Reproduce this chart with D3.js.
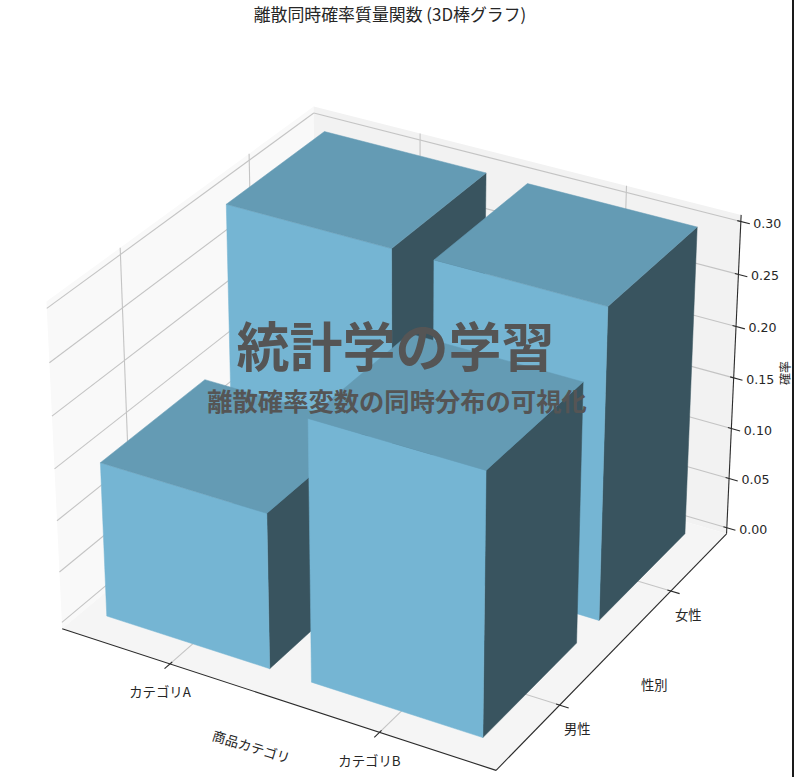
<!DOCTYPE html>
<html>
<head>
<meta charset="utf-8">
<script src="https://cdn.jsdelivr.net/npm/d3@7"></script>
<style>
  body { margin: 0; background: #fff; }
  svg { display: block; }
  text { font-family: "Noto Sans CJK JP", sans-serif; fill: #262626; }
  .num { font-family: "DejaVu Sans", sans-serif; }
</style>
</head>
<body>
<svg id="chart" width="794" height="777"></svg>
<script>
const categories = ["カテゴリA", "カテゴリB"];
const genders = ["男性", "女性"];
const maleValues = [0.15, 0.25];
const femaleValues = [0.30, 0.30];
const zTicks = [0, 0.05, 0.1, 0.15, 0.2, 0.25, 0.3];

const title = "離散同時確率質量関数 (3D棒グラフ)";
const overlayMain = "統計学の学習";
const overlaySub = "離散確率変数の同時分布の可視化";

const svg = d3.select("#chart");
const barWidth = 0.8;

// same camera as a default mplot3d view (elev 30, azim -60, box 4:4:3)
const elev = 30 * Math.PI / 180;
const azim = -60 * Math.PI / 180;
const dist = 10;
const aspect = [4, 4, 3];
const boxScale = 1.8294640721620434 * 25 / 24 / Math.hypot(...aspect);
const box = aspect.map((d) => d * boxScale);
const w = [Math.cos(elev) * Math.cos(azim), Math.cos(elev) * Math.sin(azim), Math.sin(elev)];
const u = [-w[1], w[0], 0].map((d) => d / Math.hypot(w[0], w[1]));
const v = [
  w[1] * u[2] - w[2] * u[1],
  w[2] * u[0] - w[0] * u[2],
  w[0] * u[1] - w[1] * u[0],
];
const dot = (a, b) => a[0] * b[0] + a[1] * b[1] + a[2] * b[2];

const x = d3.scaleLinear().domain([-0.535, 1.535]).range([0, box[0]]);
const y = d3.scaleLinear().domain([-0.535, 1.535]).range([0, box[1]]);
const z = d3.scaleLinear().domain([-0.00625, 0.30625]).range([0, box[2]]);
const xMin = x.domain()[0], xMax = x.domain()[1];
const yMin = y.domain()[0], yMax = y.domain()[1];
const zMin = z.domain()[0], zMax = z.domain()[1];
const xSpan = xMax - xMin, ySpan = yMax - yMin;

const pxScale = 4175;
const pxX = 400.5;
const pxY = 422.5;

function project(dx, dy, dz) {
  const p = [x(dx) - box[0] / 2, y(dy) - box[1] / 2, z(dz) - box[2] / 2];
  const depth = dist - dot(p, w);
  return [pxX + pxScale * dot(p, u) / depth, pxY - pxScale * dot(p, v) / depth];
}

const line = d3.line();
const poly = (pts) => line(pts.map((p) => project(...p))) + "Z";
const seg = (a, b, stroke, width) =>
  svg.append("path")
    .attr("d", line([project(...a), project(...b)]))
    .attr("fill", "none")
    .attr("stroke", stroke)
    .attr("stroke-width", width);

// panes
svg.append("path")
  .attr("d", poly([[xMin, yMin, zMin], [xMin, yMax, zMin], [xMin, yMax, zMax], [xMin, yMin, zMax]]))
  .attr("fill", "#f9f9f9");
svg.append("path")
  .attr("d", poly([[xMin, yMax, zMin], [xMax, yMax, zMin], [xMax, yMax, zMax], [xMin, yMax, zMax]]))
  .attr("fill", "#f2f2f2");
svg.append("path")
  .attr("d", poly([[xMin, yMin, zMin], [xMax, yMin, zMin], [xMax, yMax, zMin], [xMin, yMax, zMin]]))
  .attr("fill", "#f5f5f5");

// grid
const gridColor = "#c4c4c4";
categories.forEach((c, i) => {
  seg([i, yMin, zMin], [i, yMax, zMin], gridColor, 1.1);
  seg([i, yMax, zMin], [i, yMax, zMax], gridColor, 1.1);
});
genders.forEach((g, i) => {
  seg([xMax, i, zMin], [xMin, i, zMin], gridColor, 1.1);
  seg([xMin, i, zMin], [xMin, i, zMax], gridColor, 1.1);
});
zTicks.forEach((t) => {
  seg([xMin, yMin, t], [xMin, yMax, t], gridColor, 1.1);
  seg([xMin, yMax, t], [xMax, yMax, t], gridColor, 1.1);
});

// bars, far ones first
const bars = [];
genders.forEach((g, j) => {
  const vals = j === 0 ? maleValues : femaleValues;
  categories.forEach((c, i) => bars.push({ i, j, value: vals[i] }));
});
bars.sort((a, b) => b.j - a.j || a.i - b.i);

bars.forEach((b) => {
  const x0 = b.i - barWidth / 2, x1 = b.i + barWidth / 2;
  const y0 = b.j - barWidth / 2, y1 = b.j + barWidth / 2;
  const faces = [
    { fill: "#39545f", pts: [[x1, y0, 0], [x1, y1, 0], [x1, y1, b.value], [x1, y0, b.value]] },
    { fill: "#75b5d3", pts: [[x0, y0, 0], [x1, y0, 0], [x1, y0, b.value], [x0, y0, b.value]] },
    { fill: "#649bb4", pts: [[x0, y0, b.value], [x1, y0, b.value], [x1, y1, b.value], [x0, y1, b.value]] },
  ];
  svg.append("g").selectAll("path").data(faces).join("path")
    .attr("d", (f) => poly(f.pts))
    .attr("fill", (f) => f.fill)
    .attr("stroke", (f) => f.fill)
    .attr("stroke-width", 0.5);
});

// axis lines
const axisColor = "#2b2b2b";
seg([xMin, yMin, zMin], [xMax, yMin, zMin], axisColor, 1.1);
seg([xMax, yMin, zMin], [xMax, yMax, zMin], axisColor, 1.1);
seg([xMax, yMax, zMin], [xMax, yMax, zMax], axisColor, 1.1);

const tickIn = 0.008, tickOut = 0.02;
categories.forEach((c, i) => {
  seg([i, yMin + tickIn * ySpan, zMin], [i, yMin - tickOut * ySpan, zMin], axisColor, 1.1);
});
genders.forEach((g, i) => {
  seg([xMax - tickIn * xSpan, i, zMin], [xMax + tickOut * xSpan, i, zMin], axisColor, 1.1);
});
zTicks.forEach((t) => {
  seg([xMax - tickIn * xSpan, yMax, t], [xMax + tickOut * xSpan, yMax, t], axisColor, 1.1);
});

// tick labels
svg.append("g").selectAll("text").data(categories).join("text")
  .attr("x", (c, i) => project(i, yMin, zMin)[0] - 10)
  .attr("y", (c, i) => project(i, yMin, zMin)[1] + 27.5)
  .attr("text-anchor", "middle")
  .attr("dominant-baseline", "central")
  .attr("font-size", 13.4)
  .text((c) => c);
svg.append("g").selectAll("text").data(genders).join("text")
  .attr("x", (g, i) => project(xMax, i, zMin)[0] + 17.5)
  .attr("y", (g, i) => project(xMax, i, zMin)[1] + 23.5)
  .attr("text-anchor", "middle")
  .attr("dominant-baseline", "central")
  .attr("font-size", 13.3)
  .text((g) => g);
svg.append("g").selectAll("text").data(zTicks).join("text")
  .attr("class", "num")
  .attr("x", (t) => project(xMax, yMax, t)[0] + 12.5)
  .attr("y", (t) => project(xMax, yMax, t)[1] + 1.5)
  .attr("dominant-baseline", "central")
  .attr("font-size", 12.6)
  .text((t) => t.toFixed(2));

// axis titles
svg.append("text")
  .attr("transform", "translate(251.5,746) rotate(17)")
  .attr("text-anchor", "middle")
  .attr("dominant-baseline", "central")
  .attr("font-size", 13.4)
  .text("商品カテゴリ");
svg.append("text")
  .attr("x", 654.3).attr("y", 684.5)
  .attr("text-anchor", "middle")
  .attr("dominant-baseline", "central")
  .attr("font-size", 13.3)
  .text("性別");
svg.append("text")
  .attr("transform", "translate(784.5,373) rotate(-90)")
  .attr("text-anchor", "middle")
  .attr("dominant-baseline", "central")
  .attr("font-size", 12)
  .text("確率");

svg.append("text")
  .attr("x", 390).attr("y", 13.5)
  .attr("text-anchor", "middle")
  .attr("dominant-baseline", "central")
  .attr("font-size", 16.9)
  .text(title);

// overlay text
svg.append("text")
  .attr("x", 395.5).attr("y", 343.5)
  .attr("text-anchor", "middle")
  .attr("dominant-baseline", "central")
  .attr("font-size", 53)
  .attr("font-weight", 700)
  .style("fill", "#555555")
  .text(overlayMain);
svg.append("text")
  .attr("x", 397).attr("y", 400)
  .attr("text-anchor", "middle")
  .attr("dominant-baseline", "central")
  .attr("font-size", 25.3)
  .attr("font-weight", 700)
  .style("fill", "#555555")
  .text(overlaySub);

// dark edge at the right of the picture
svg.append("rect")
  .attr("x", 792).attr("y", 0)
  .attr("width", 2).attr("height", 777)
  .attr("fill", "#1a1a1a");
</script>
</body>
</html>
